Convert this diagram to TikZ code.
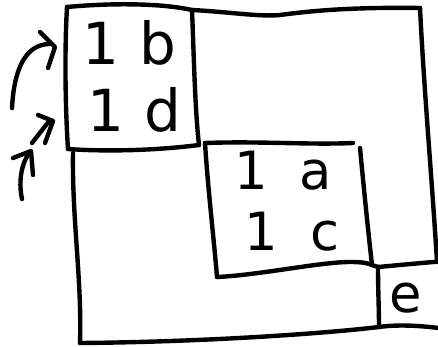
\documentclass[tikz,border=0pt]{standalone}
\usepackage{fontspec}
\setmainfont{DejaVu Sans}
\begin{document}
\begin{tikzpicture}[x=0.02cm,y=-0.02cm,
  ink/.style={line width=2.5pt, line cap=round, line join=round},
  lbl/.style={font=\fontsize{30}{36}\selectfont, inner sep=0pt, anchor=base},
  biglbl/.style={lbl, font=\fontsize{33}{40}\selectfont}]
\useasboundingbox (0,0) rectangle (438,347);
\clip (0,0) rectangle (438,347);
% corners
\coordinate (A) at (67,7);
\coordinate (B) at (192,10);
\coordinate (C) at (420,8);
\coordinate (D) at (437,262);
\coordinate (K) at (68,149);
\coordinate (L) at (199,145);
\coordinate (J) at (73,153);
\coordinate (I) at (80,343);
\coordinate (M1) at (205,143);
\coordinate (M2) at (353,143);
\coordinate (M3) at (360,148);
\coordinate (M4) at (372,265);
\coordinate (M5) at (217,277);
\coordinate (E) at (378,267);
\coordinate (G) at (379,327);
\coordinate (ER) at (446,261);
\coordinate (BR) at (446,329);
% top-left box
\draw[ink] (A) .. controls (110,3) and (160,3) .. (B);
\draw[ink] (A) .. controls (64,60) and (66,120) .. (K);
\draw[ink] (K) .. controls (110,152) and (160,150) .. (L);
\draw[ink] (B) .. controls (194,60) and (195,110) .. (L);
% outer frame
\draw[ink] (B) .. controls (230,12) and (260,17) .. (280,15) .. controls (310,11) and (350,7) .. (C);
\draw[ink] (C) .. controls (424,90) and (432,180) .. (D);
\draw[ink] (J) .. controls (72,220) and (82,280) .. (I);
\draw[ink] (I) .. controls (200,342) and (320,334) .. (G) .. controls (400,324) and (425,326) .. (BR);
% middle box
\draw[ink] (M1) .. controls (260,141) and (310,145) .. (M2);
\draw[ink] (M1) .. controls (208,190) and (214,240) .. (M5);
\draw[ink] (M5) .. controls (260,275) and (320,262) .. (350,262) .. controls (362,262) and (368,263) .. (M4);
\draw[ink] (M3) .. controls (364,190) and (368,230) .. (M4);
% e box
\draw[ink] (M4) -- (E);
\draw[ink] (E) .. controls (400,265) and (420,263) .. (ER);
\draw[ink] (E) .. controls (378,290) and (379,310) .. (G);
% arrows
\draw[ink] (12,108) .. controls (14,70) and (25,44) .. (50,44);
\draw[ink] (40,32) -- (55,47) -- (48,68);
\draw[ink] (32,143) -- (50,120);
\draw[ink] (38,115) -- (53,121) -- (45,143);
\draw[ink] (22,199) .. controls (18,180) and (22,162) .. (30,152);
\draw[ink] (13,158) -- (31,151) -- (33,175);
% labels
\node[biglbl] (t1) at (129,65) {1\hspace{0.35em}b};
\node[biglbl] (t2) at (134,132) {1\hspace{0.35em}d};
\node[lbl] (m1) at (283,190) {1\hspace{0.6em}a};
\node[lbl] (m2) at (292,250) {1\hspace{0.6em}c};
\node[lbl] (e) at (406,312) {e};
\end{tikzpicture}
\end{document}
